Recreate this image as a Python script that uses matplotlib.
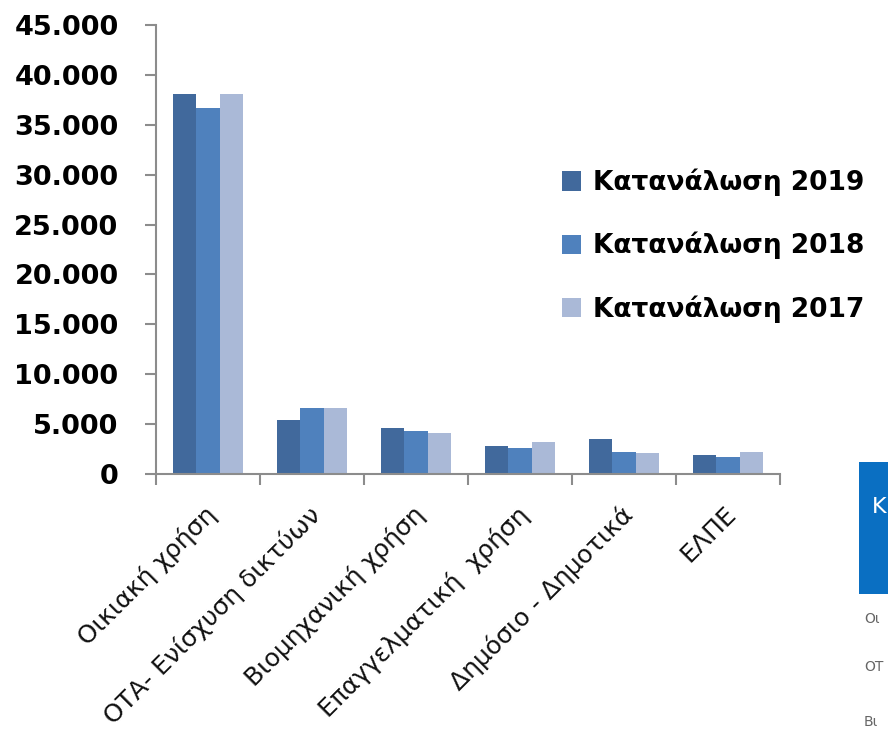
import matplotlib
matplotlib.use("Agg")
import matplotlib.pyplot as plt
import numpy as np
from matplotlib.patches import Rectangle, Patch
from matplotlib.ticker import FuncFormatter
import matplotlib.transforms as mtrans

plt.rcParams['font.family'] = ['DejaVu Sans']

categories = ["Οικιακή χρήση", "ΟΤΑ- Ενίσχυση δικτύων", "Βιομηχανική χρήση",
              "Επαγγελματική  χρήση", "Δημόσιο - Δημοτικά", "ΕΛΠΕ"]
series_names = ["Κατανάλωση 2019", "Κατανάλωση 2018", "Κατανάλωση 2017"]
values_2019 = [38100, 5400, 4630, 2800, 3530, 1870]
values_2018 = [36660, 6660, 4260, 2630, 2230, 1700]
values_2017 = [38100, 6660, 4060, 3160, 2100, 2230]
colors = ["#41699C", "#4F81BD", "#AAB9D7"]

W, H = 888, 739
fig = plt.figure(figsize=(W/100, H/100), dpi=100)
ax = fig.add_axes([156/W, (H-474)/H, (780-156)/W, (474-25)/H])

x = np.arange(len(categories))
bw = 0.225
for i, (vals, c, name) in enumerate(zip([values_2019, values_2018, values_2017], colors, series_names)):
    ax.bar(x + (i-1)*bw, vals, bw, color=c, label=name, edgecolor='none', zorder=2)

ax.set_xlim(-0.5, len(categories)-0.5)
ax.set_ylim(0, 45000)
ax.set_yticks(np.arange(0, 45001, 5000))
ax.yaxis.set_major_formatter(FuncFormatter(lambda v, p: f"{int(v):,}".replace(",", ".")))
ax.set_xticks(np.arange(-0.5, len(categories)))
ax.set_xticklabels([])
for spine in ['top', 'right']:
    ax.spines[spine].set_visible(False)
for spine in ['left', 'bottom']:
    ax.spines[spine].set_color('#8C8C8C')
    ax.spines[spine].set_linewidth(1.5)
ax.tick_params(axis='y', direction='out', length=8, width=1.5, color='#8C8C8C', pad=19,
               labelsize=19.5)
ax.tick_params(axis='x', direction='out', length=8, width=1.5, color='#8C8C8C')
for lab in ax.get_yticklabels():
    lab.set_fontweight('bold')

off = mtrans.ScaledTranslation(-4/100, -28/100, fig.dpi_scale_trans)
for xi, name in zip(x, categories):
    ax.text(xi, 0, name, rotation=45, ha='right', va='top',
            rotation_mode='anchor', fontsize=18, color='#111111',
            transform=ax.transData + off)

handles = [Patch(facecolor=c, edgecolor='none') for c in colors]
leg = fig.legend(handles, series_names, loc='upper left', bbox_to_anchor=(551/W, 1-158/H),
                 frameon=False, prop={'size': 19, 'weight': 'bold'},
                 handlelength=0.75, handleheight=0.75, handletextpad=0.45, labelspacing=1.36,
                 borderaxespad=0)

# partial table visible at bottom right
fig.patches.append(Rectangle((859/W, 1-594/H), (W-859)/W, (594-462)/H,
                             transform=fig.transFigure, facecolor='#0A6FC2', edgecolor='none'))
fig.text(872/W, 1-507/H, "Κ", color='white', fontsize=16, va='center', ha='left')
fig.text(864/W, 1-619/H, "Οι", color='#666666', fontsize=10, va='center', ha='left')
fig.text(864/W, 1-667/H, "ΟΤ", color='#666666', fontsize=10, va='center', ha='left')
fig.text(864/W, 1-722/H, "Βι", color='#666666', fontsize=10, va='center', ha='left')

fig.savefig("out.png", dpi=100)
